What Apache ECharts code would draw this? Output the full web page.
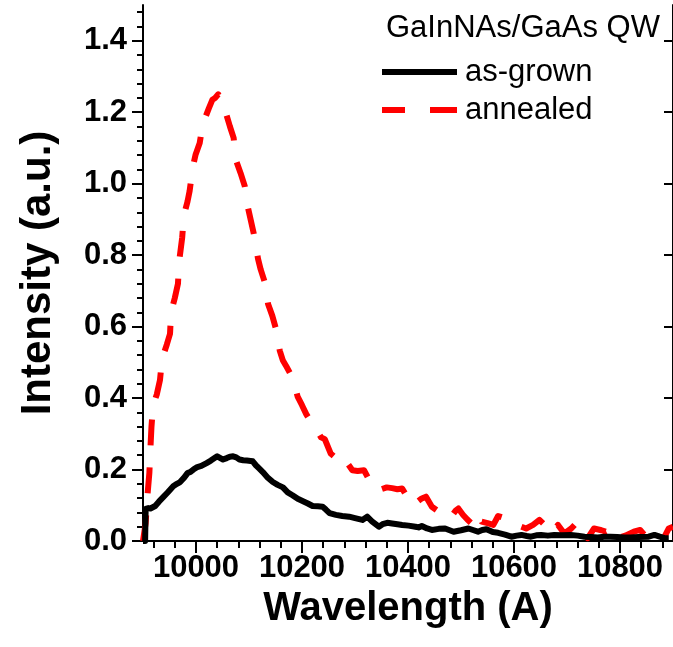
<!DOCTYPE html>
<html>
<head>
<meta charset="utf-8">
<script src="https://cdn.jsdelivr.net/npm/echarts@6/dist/echarts.min.js"></script>
<style>
  html, body { margin: 0; padding: 0; background: #fff; }
  #chart { width: 673px; height: 647px; }
</style>
</head>
<body>
<div id="chart"></div>
<script>
// Photoluminescence spectra of a GaInNAs/GaAs quantum well
const asGrownWavelength = [
  9900, 9904, 9905, 9910, 9914, 9923, 9930, 9939, 9946, 9952, 9957, 9964, 9970, 9978, 9984, 9989,
  9995, 10001, 10010, 10020, 10028, 10035, 10040, 10046, 10051, 10058, 10064, 10070, 10076, 10082,
  10089, 10096, 10103, 10107, 10113, 10120, 10126, 10135, 10145, 10154, 10164, 10173, 10182, 10192,
  10201, 10211, 10220, 10230, 10239, 10245, 10252, 10264, 10276, 10289, 10300, 10314, 10323, 10332,
  10345, 10352, 10361, 10370, 10380, 10389, 10401, 10414, 10420, 10426, 10436, 10445, 10458, 10470,
  10486, 10500, 10514, 10524, 10532, 10540, 10548, 10560, 10570, 10583, 10595, 10605, 10614, 10624,
  10632, 10642, 10651, 10664, 10676, 10690, 10707, 10720, 10733, 10745, 10758, 10770, 10782, 10795,
  10808, 10820, 10835, 10854, 10865, 10875, 10884, 10892
];
const asGrownIntensity = [
  0, 0, 0.090, 0.092, 0.091, 0.098, 0.110, 0.124, 0.135, 0.145, 0.153, 0.160, 0.165, 0.178, 0.190, 0.193,
  0.200, 0.206, 0.210, 0.218, 0.225, 0.232, 0.237, 0.232, 0.228, 0.232, 0.236, 0.237, 0.234, 0.228,
  0.226, 0.225, 0.224, 0.223, 0.212, 0.202, 0.193, 0.178, 0.165, 0.157, 0.150, 0.136, 0.128, 0.118,
  0.112, 0.105, 0.098, 0.097, 0.096, 0.088, 0.078, 0.073, 0.070, 0.068, 0.064, 0.059, 0.068, 0.055,
  0.040, 0.047, 0.051, 0.049, 0.047, 0.045, 0.043, 0.040, 0.038, 0.042, 0.035, 0.031, 0.034, 0.035,
  0.026, 0.030, 0.035, 0.030, 0.026, 0.031, 0.033, 0.025, 0.023, 0.018, 0.012, 0.015, 0.017, 0.014,
  0.012, 0.016, 0.017, 0.015, 0.017, 0.016, 0.017, 0.015, 0.012, 0.011, 0.010, 0.012, 0.012, 0.011,
  0.010, 0.010, 0.011, 0.012, 0.017, 0.012, 0.008, 0.008
];

const annealedWavelength = [
  9900, 9905, 9908, 9912, 9914, 9916, 9919, 9926, 9932, 9936, 9945, 9951, 9953, 9960, 9966, 9968,
  9974, 9977, 9984, 9988, 9994, 9999, 10007, 10012, 10016, 10024, 10031, 10036, 10042, 10048, 10057,
  10064, 10071, 10076, 10084, 10092, 10098, 10103, 10109, 10117, 10122, 10129, 10136, 10144, 10151,
  10158, 10164, 10170, 10178, 10185, 10192, 10200, 10208, 10217, 10225, 10232, 10236, 10243, 10254,
  10262, 10274, 10280, 10286, 10295, 10305, 10317, 10327, 10339, 10350, 10360, 10370, 10380, 10389,
  10398, 10407, 10418, 10426, 10434, 10445, 10460, 10479, 10490, 10495, 10504, 10512, 10520, 10532,
  10539, 10550, 10561, 10570, 10580, 10589, 10605, 10623, 10636, 10648, 10658, 10670, 10683, 10695,
  10708, 10720, 10730, 10739, 10751, 10765, 10773, 10786, 10795, 10810, 10826, 10838, 10854, 10870,
  10884, 10892, 10900
];
const annealedIntensity = [
  0, 0.05, 0.12, 0.19, 0.26, 0.32, 0.38, 0.41, 0.45, 0.51, 0.55, 0.58, 0.64, 0.68, 0.72, 0.78,
  0.85, 0.91, 0.95, 0.98, 1.046, 1.08, 1.114, 1.16, 1.179, 1.21, 1.235, 1.24, 1.25, 1.23, 1.195,
  1.16, 1.128, 1.063, 1.03, 0.993, 0.933, 0.90, 0.860, 0.79, 0.76, 0.728, 0.663, 0.63, 0.593,
  0.533, 0.505, 0.49, 0.468, 0.44, 0.403, 0.38, 0.355, 0.333, 0.31, 0.30, 0.29, 0.285, 0.245,
  0.235, 0.231, 0.210, 0.217, 0.198, 0.196, 0.198, 0.17, 0.142, 0.145, 0.150, 0.148, 0.145, 0.147,
  0.124, 0.100, 0.110, 0.119, 0.124, 0.096, 0.080, 0.063, 0.085, 0.091, 0.073, 0.060, 0.049, 0.077,
  0.054, 0.050, 0.045, 0.070, 0.065, 0.059, 0.045, 0.035, 0.045, 0.059, 0.045, 0.021, 0.045, 0.021,
  0.035, 0.054, 0.030, 0.008, 0.035, 0.030, 0.026, 0.035, 0.008, 0.015, 0.026, 0.031, 0.003, 0.005,
  0.012, 0.035, 0.040
];

const xMajorTicks = [10000, 10200, 10400, 10600, 10800];
const yMajorTicks = [0, 0.2, 0.4, 0.6, 0.8, 1.0, 1.2, 1.4];

const X_MIN = 9900, X_MAX = 10900, Y_MIN = 0, Y_MAX = 1.5;

// minor ticks: five subdivisions per major step
function minorValues(lo, hi, step, majors) {
  const out = [];
  const n = Math.round((hi - lo) / step);
  for (let i = 0; i <= n; i++) {
    const v = +(lo + i * step).toFixed(6);
    if (!majors.some(m => Math.abs(m - v) < 1e-9)) out.push(v);
  }
  return out;
}
const xMinorTicks = minorValues(9920, 10880, 40, xMajorTicks);
const yMinorTicks = minorValues(0, 1.48, 0.04, yMajorTicks);
const xAllTicks = xMajorTicks.concat(xMinorTicks).sort((a, b) => a - b);

const pair = (xs, ys) => xs.map((x, i) => [x, ys[i]]);

const FONT = 'Liberation Sans, Arial, Helvetica, sans-serif';
const black = '#000000';
const red = '#ff0000';

// legend keys: a solid bar and a two-dash bar
const solidKey = 'path://M0,0H75V6H0Z';
const dashedKey = 'path://M0,0H23V6H0Z M48,0H75V6H48Z';

const chart = echarts.init(document.getElementById('chart'), null, { renderer: 'canvas' });

const hidden = { show: false };

chart.setOption({
  animation: false,
  backgroundColor: '#ffffff',
  title: {
    text: 'GaInNAs/GaAs QW',
    left: 386,
    top: 13,
    padding: 0,
    textStyle: { fontFamily: FONT, fontSize: 31, fontWeight: 'normal', color: black }
  },
  legend: {
    data: [
      { name: 'as-grown', icon: solidKey },
      { name: 'annealed', icon: dashedKey }
    ],
    orient: 'vertical',
    left: 382,
    top: 53,
    padding: 0,
    itemGap: 0,
    itemWidth: 75,
    itemHeight: 7,
    textStyle: { fontFamily: FONT, fontSize: 31, color: black, lineHeight: 38, padding: [0, 0, 0, 3] }
  },
  grid: { left: 143, right: -3, top: 5, bottom: 106, containLabel: false },
  xAxis: [
    {
      type: 'value', position: 'bottom', min: X_MIN, max: X_MAX,
      name: 'Wavelength (A)', nameLocation: 'middle', nameGap: 44,
      nameTextStyle: { fontFamily: FONT, fontSize: 40, fontWeight: 'bold', color: black },
      axisLine: { show: true, lineStyle: { color: black, width: 2 } },
      axisTick: { show: true, inside: false, length: 12, lineStyle: { color: black, width: 2 }, customValues: xMajorTicks },
      axisLabel: {
        show: true, margin: 12, fontFamily: FONT, fontSize: 31, fontWeight: 'bold', color: black,
        customValues: xMajorTicks, formatter: v => String(v)
      },
      splitLine: hidden
    },
    {
      type: 'value', position: 'bottom', min: X_MIN, max: X_MAX,
      axisLine: hidden,
      axisTick: { show: true, inside: false, length: 6, lineStyle: { color: black, width: 2 }, customValues: xMinorTicks },
      axisLabel: hidden, splitLine: hidden
    },
    {
      type: 'value', position: 'top', min: X_MIN, max: X_MAX,
      axisLine: { show: true, lineStyle: { color: black, width: 2 } },
      axisTick: { show: true, inside: true, length: 7, lineStyle: { color: black, width: 2 }, customValues: xAllTicks },
      axisLabel: hidden, splitLine: hidden
    }
  ],
  yAxis: [
    {
      type: 'value', position: 'left', min: Y_MIN, max: Y_MAX,
      name: 'Intensity (a.u.)', nameLocation: 'middle', nameGap: 84, nameRotate: 90,
      nameTextStyle: { fontFamily: FONT, fontSize: 42, fontWeight: 'bold', color: black },
      axisLine: { show: true, lineStyle: { color: black, width: 2 } },
      axisTick: { show: true, inside: false, length: 11, lineStyle: { color: black, width: 2 }, customValues: yMajorTicks },
      axisLabel: {
        show: true, margin: 16, fontFamily: FONT, fontSize: 31, fontWeight: 'bold', color: black,
        customValues: yMajorTicks, formatter: v => v.toFixed(1)
      },
      splitLine: hidden
    },
    {
      type: 'value', position: 'left', min: Y_MIN, max: Y_MAX,
      axisLine: hidden,
      axisTick: { show: true, inside: false, length: 6, lineStyle: { color: black, width: 2 }, customValues: yMinorTicks },
      axisLabel: hidden, splitLine: hidden
    },
    {
      type: 'value', position: 'right', min: Y_MIN, max: Y_MAX,
      axisLine: { show: true, lineStyle: { color: black, width: 2 } },
      axisTick: { show: true, inside: true, length: 9, lineStyle: { color: black, width: 2 }, customValues: yMajorTicks },
      axisLabel: hidden, splitLine: hidden
    }
  ],
  series: [
    {
      name: 'as-grown', type: 'line', xAxisIndex: 0, yAxisIndex: 0,
      data: pair(asGrownWavelength, asGrownIntensity),
      symbol: 'none', showSymbol: false, clip: true, z: 3,
      lineStyle: { color: black, width: 6, join: 'round' },
      itemStyle: { color: black }
    },
    {
      name: 'annealed', type: 'line', xAxisIndex: 0, yAxisIndex: 0,
      data: pair(annealedWavelength, annealedIntensity),
      symbol: 'none', showSymbol: false, clip: true, z: 2,
      lineStyle: { color: red, width: 6, type: [26, 22], join: 'round' },
      itemStyle: { color: red }
    }
  ]
});
</script>
</body>
</html>
